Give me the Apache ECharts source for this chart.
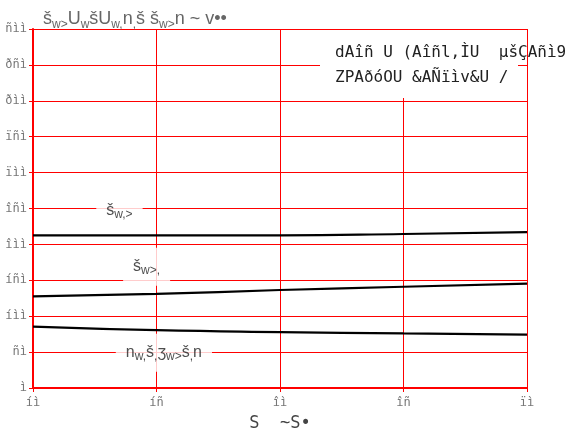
<!DOCTYPE html>
<html><head><meta charset="utf-8">
<script src="https://cdn.jsdelivr.net/npm/echarts@6/dist/echarts.min.js"></script>
<style>html,body{margin:0;padding:0;background:#fff}#c{width:582px;height:437px}</style>
</head><body><div id="c"></div>
<script>
// --- data ---
const xValues = [10, 15, 20, 25, 30];
const seriesA = [212.7, 212.5, 212.7, 214.5, 217];
const seriesB = [127.5, 131, 136.5, 141, 145.5];
const seriesC = [85.5, 80.5, 77.8, 76, 74.4];
const xTickLabels = ['íì', 'íñ', 'îì', 'îñ', 'ïì'];
const yTickLabels = ['ì', 'ñì', 'íìì', 'íñì', 'îìì', 'îñì', 'ïìì', 'ïñì', 'ðìì', 'ðñì', 'ñìì'];
const lineLabels = ['š{s|w,>}', 'š{s|w>,}', 'n{s|w,}š{s|,}ʒ{s|w>}š{s|,}n'];
const lineLabelPos = [[13.5, 247], [14.6, 169], [15.3, 49]];
const titleText = 'š{s|w>}U{s|w}šU{s|w,}n{s|,}š š{s|w>}n ~ v••';
const legendLines = ['dAîñ U (Aîñl,ÌU  µšÇAñì9', 'ZPAðóOU &AÑïìv&U /'];
const xName = 'S  ~S•';

const mono = 'DejaVu Sans Mono';
const sans = 'Liberation Sans';
const red = '#ff0000';
const chart = echarts.init(document.getElementById('c'));
const pair = (ys) => xValues.map((x, i) => [x, ys[i]]);
const lineStyle = {color: '#000', width: 2.2};

chart.setOption({
  animation: false,
  title: {
    text: titleText, left: 38, top: 3,
    textStyle: {fontFamily: sans, fontSize: 18, fontWeight: 'normal', color: '#666',
      rich: {s: {fontFamily: sans, fontSize: 12, color: '#666', padding: [11, 0, 0, 0]}}}
  },
  grid: {left: 33, right: 55, top: 29, bottom: 46.5, containLabel: false},
  xAxis: {
    type: 'value', min: 10, max: 30, interval: 5,
    name: xName, nameLocation: 'middle', nameGap: 27,
    nameTextStyle: {fontFamily: mono, fontSize: 17, color: '#444'},
    axisLine: {show: true, onZero: false, lineStyle: {color: red, width: 2}},
    axisTick: {show: true, length: 4, lineStyle: {color: red}},
    axisLabel: {fontFamily: mono, fontSize: 12, color: '#777', margin: 9,
      formatter: (v) => xTickLabels[Math.round((v - 10) / 5)]},
    splitLine: {show: true, lineStyle: {color: red, width: 1}}
  },
  yAxis: {
    type: 'value', min: 0, max: 500, interval: 50,
    axisLine: {show: true, lineStyle: {color: red, width: 2}},
    axisTick: {show: true, length: 4, lineStyle: {color: red}},
    axisLabel: {fontFamily: mono, fontSize: 12, color: '#777', margin: 6,
      formatter: (v) => yTickLabels[Math.round(v / 50)]},
    splitLine: {show: true, lineStyle: {color: red, width: 1}}
  },
  graphic: [
    {type: 'rect', left: 320, top: 30, z: 50, shape: {width: 198, height: 68}, style: {fill: '#fff'}},
    {type: 'text', left: 335, top: 40, z: 51,
      style: {text: legendLines.join('\n'), fontFamily: mono, fontSize: 16, lineHeight: 25, fill: '#222'}}
  ],
  series: [
    {type: 'line', data: pair(seriesA), symbol: 'none', smooth: true, lineStyle, z: 3},
    {type: 'line', data: pair(seriesB), symbol: 'none', smooth: true, lineStyle, z: 3},
    {type: 'line', data: pair(seriesC), symbol: 'none', smooth: true, lineStyle, z: 3},
    {type: 'scatter', symbolSize: 0, z: 4,
      data: lineLabelPos.map((p, i) => ({value: p, label: {formatter: lineLabels[i]}})),
      label: {show: true, position: 'inside', backgroundColor: '#fff', padding: [9, 10],
        fontFamily: sans, fontSize: 16, color: '#222',
        rich: {s: {fontFamily: sans, fontSize: 12, color: '#222', padding: [8, 0, 0, 0]}}}}
  ]
});
</script></body></html>
